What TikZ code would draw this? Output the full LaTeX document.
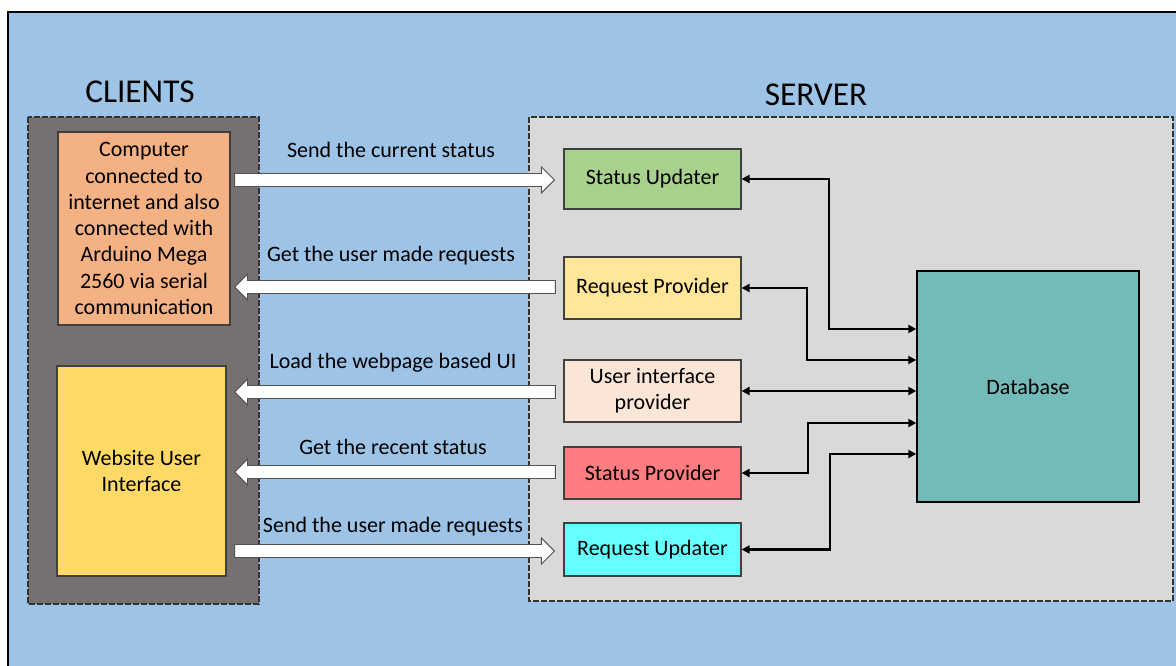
\documentclass[tikz,border=0pt]{standalone}
\usepackage{fontspec}
\setmainfont{Carlito}
\usetikzlibrary{calc,arrows.meta}

\definecolor{sky}{HTML}{9DC3E6}
\definecolor{clientgray}{HTML}{767171}
\definecolor{servergray}{HTML}{D9D9D9}
\definecolor{compfill}{HTML}{F4B183}
\definecolor{webfill}{HTML}{FFD966}
\definecolor{sufill}{HTML}{A9D18E}
\definecolor{rpfill}{HTML}{FFE699}
\definecolor{uipfill}{HTML}{FBE5D6}
\definecolor{spfill}{HTML}{FF7C80}
\definecolor{rufill}{HTML}{66FFFF}
\definecolor{dbfill}{HTML}{72BBB8}
\definecolor{edge}{HTML}{404040}

% horizontal block arrow from #1 (tail) to #2 (tip)
\newcommand{\fatarrow}[2]{%
  \path ($(#2)!9.75pt!(#1)$) coordinate (fa-h);
  \draw[blockarrow] ($(#1)+(0,6.5)$) -- ($(fa-h)+(0,6.5)$) -- ($(fa-h)+(0,13)$)
    -- (#2) -- ($(fa-h)+(0,-13)$) -- ($(fa-h)+(0,-6.5)$) -- ($(#1)+(0,-6.5)$) -- cycle;}

\begin{document}
\begin{tikzpicture}[x=0.75pt,y=-0.75pt,
  txt/.style={font=\fontsize{16.5}{19.7}\selectfont, text=black},
  title/.style={font=\fontsize{25}{30}\selectfont, text=black, anchor=base},
  lbl/.style={txt, anchor=base, inner sep=0pt},
  box/.style={draw=edge, line width=0.9pt, inner sep=2pt, align=center, txt},
  srv/.style={box, minimum width=132.75pt},
  container/.style={draw=black!80, line width=0.8pt, dash pattern=on 4.5pt off 1.5pt},
  blockarrow/.style={draw=edge!90, line width=0.7pt, fill=white},
  link/.style={line width=1.9pt, black, {Triangle[length=6pt,width=6pt]}-{Triangle[length=6pt,width=6pt]}}]

\useasboundingbox (0,0) rectangle (1176,666);
\fill[white] (0,0) rectangle (1176,666);
\fill[sky] (8,12) rectangle (1176,666);
\draw[line width=1.5pt, black] (8,666) -- (8,12) -- (1176,12);

% client and server areas
\filldraw[container, fill=clientgray] (28,117) rectangle (259,604);
\filldraw[container, fill=servergray] (529,117) rectangle (1173,601);

\node[title] (tclients) at (140,102.5) {CLIENTS};
\node[title] (tserver) at (816,105.5) {SERVER};

% client boxes
\node[box, fill=compfill, minimum width=129pt, minimum height=144.75pt] (comp) at (144,228.5)
  {Computer\\connected to\\internet and also\\connected with\\Arduino Mega\\2560 via serial\\communication};
\node[box, fill=webfill, minimum width=126.75pt, minimum height=157.5pt] (web) at (141.5,471)
  {Website User\\Interface};

% server boxes
\node[srv, fill=sufill, minimum height=45pt] (su) at (652.5,179) {Status Updater};
\node[srv, fill=rpfill, minimum height=46.5pt] (rp) at (652.5,288) {Request Provider};
\node[srv, fill=uipfill, minimum height=46.5pt] (uip) at (652.5,391) {User interface\\provider};
\node[srv, fill=spfill, minimum height=39pt] (sp) at (652.5,473) {Status Provider};
\node[srv, fill=rufill, minimum height=39.75pt] (ru) at (652.5,549.5) {Request Updater};
\node[box, draw=black, line width=1.1pt, fill=dbfill, minimum width=166.5pt, minimum height=173.25pt] (db) at (1028,386.5) {Database};

% block arrows between clients and server
\coordinate (a1s) at ($(comp.east |- su.west)+(4,1)$);
\coordinate (a1e) at ($(su.west)+(-9,1)$);
\fatarrow{a1s}{a1e}
\coordinate (a2s) at ($(rp.west)+(-8,-1)$);
\coordinate (a2e) at ($(comp.east |- rp.west)+(4,-1)$);
\fatarrow{a2s}{a2e}
\coordinate (a3s) at ($(uip.west)+(-8,1)$);
\coordinate (a3e) at ($(web.east |- uip.west)+(8,1)$);
\fatarrow{a3s}{a3e}
\coordinate (a4s) at ($(sp.west)+(-8,-1)$);
\coordinate (a4e) at ($(web.east |- sp.west)+(8,-1)$);
\fatarrow{a4s}{a4e}
\coordinate (a5s) at ($(web.east |- ru.west)+(8,1.5)$);
\coordinate (a5e) at ($(ru.west)+(-9,1.5)$);
\fatarrow{a5s}{a5e}

\node[lbl] (l1) at (391,157.5) {Send the current status};
\node[lbl] (l2) at (391,262) {Get the user made requests};
\node[lbl] (l3) at (393,368) {Load the webpage based UI};
\node[lbl] (l4) at (393,454.5) {Get the recent status};
\node[lbl] (l5) at (393,532) {Send the user made requests};

% links to the database
\draw[link] (su.east) -| (829,329) -- (db.west |- 0,329);
\draw[link] (rp.east) -| (807,360) -- (db.west |- 0,360);
\draw[link] (uip.east) -- (db.west |- uip.east);
\draw[link] (sp.east) -| (808,423) -- (db.west |- 0,423);
\draw[link] (ru.east) -| (830,454) -- (db.west |- 0,454);

\end{tikzpicture}
\end{document}
